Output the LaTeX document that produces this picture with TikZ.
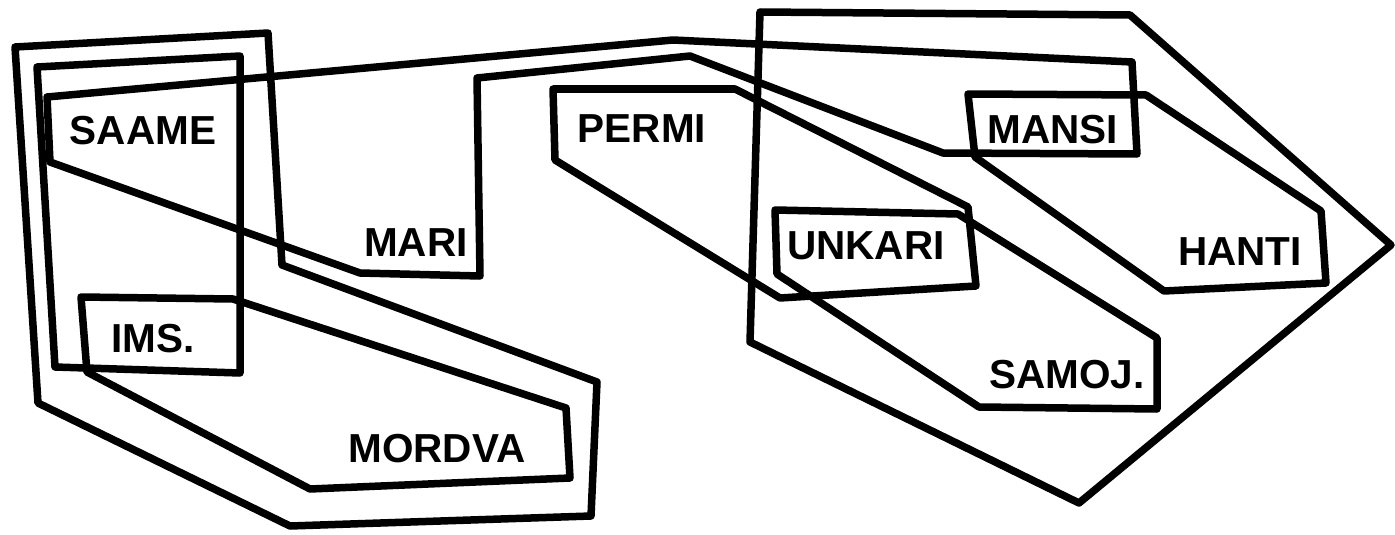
\documentclass[tikz,border=0pt]{standalone}
\usepackage{fontspec}
\setmainfont{Liberation Sans}
\begin{document}
\begin{tikzpicture}[x=1pt,y=-1pt,
  region/.style={draw=black,line width=7.5pt,line join=round},
  lang/.style={inner sep=0pt,font=\fontsize{40.5}{48}\selectfont\bfseries}]
\useasboundingbox (0,0) rectangle (1395,535);
% regions
\draw[region] (15,47) -- (268,33) -- (282,265) -- (597,382) -- (591,516) -- (290,526) -- (38,403) -- cycle;
\draw[region] (37,67) -- (240,56) -- (240,373) -- (55,367) -- cycle;
\draw[region] (47,97) -- (673,40) -- (1132,62) -- (1137,154) -- (943,153) -- (690,56) -- (477,78) -- (480,276) -- (360,273) -- (50,162) -- cycle;
\draw[region] (81,297) -- (233,299) -- (566,408) -- (570,478) -- (310,489) -- (87,372) -- cycle;
\draw[region] (553,89) -- (735,89) -- (968,207) -- (976,286) -- (780,298) -- (555,160) -- cycle;
\draw[region] (775,210) -- (958,214) -- (1157,338) -- (1157,409) -- (979,407) -- (777,274) -- cycle;
\draw[region] (968,94) -- (1146,95) -- (1321,211) -- (1326,283) -- (1164,291) -- (975,157) -- cycle;
\draw[region] (760,12) -- (1130,15) -- (1391,245) -- (1079,503) -- (750,342) -- cycle;
% labels
\node[lang] (saame) at (143,131) {SAAME};
\node[lang] (mari) at (416,243) {MARI};
\node[lang] (ims) at (153,339) {IMS.};
\node[lang] (mordva) at (437,449) {MORDVA};
\node[lang] (permi) at (642,129) {PERMI};
\node[lang] (mansi) at (1053,130) {MANSI};
\node[lang] (unkari) at (866,246) {UNKARI};
\node[lang] (hanti) at (1240,252) {HANTI};
\node[lang] (samoj) at (1067,375) {SAMOJ.};
\end{tikzpicture}
\end{document}
